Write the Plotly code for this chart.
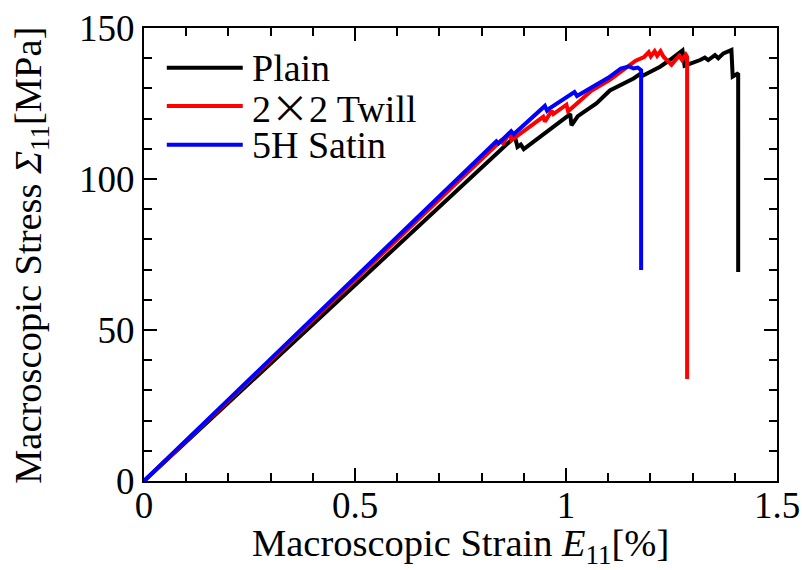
import plotly.graph_objects as go

# Stress-strain curves for three weave architectures (strain in %, stress in MPa)
strain_plain = [0, 0.879, 0.885, 0.893, 0.900, 1.010, 1.013, 1.028, 1.072, 1.104, 1.160,
                1.178, 1.182, 1.223, 1.246, 1.276, 1.281, 1.301, 1.318, 1.329, 1.337,
                1.353, 1.361, 1.373, 1.392, 1.395, 1.408, 1.408]
stress_plain = [0, 114.0, 110.6, 111.4, 109.9, 121.5, 117.8, 120.8, 125.0, 129.3, 133.3,
                135.0, 134.2, 137.2, 139.4, 142.6, 137.5, 138.4, 139.4, 140.2, 139.4,
                141.0, 140.0, 141.6, 142.7, 133.9, 135.0, 69.2]

strain_twill = [0, 0.845, 0.851, 0.866, 0.871, 0.946, 0.950, 0.966, 0.970, 1.001, 1.005,
                1.060, 1.104, 1.136, 1.165, 1.185, 1.196, 1.201, 1.210, 1.216, 1.224,
                1.231, 1.250, 1.268, 1.275, 1.284, 1.287, 1.287]
stress_twill = [0, 112.6, 111.8, 115.2, 112.9, 120.6, 119.0, 122.6, 121.5, 124.6, 122.4,
                129.2, 132.8, 136.1, 139.2, 140.4, 142.0, 140.6, 142.3, 140.8, 142.3,
                140.5, 137.8, 140.8, 139.4, 141.2, 140.5, 33.8]

strain_satin = [0, 0.835, 0.840, 0.870, 0.876, 0.950, 0.955, 0.962, 1.020, 1.026, 1.100,
                1.130, 1.150, 1.160, 1.170, 1.178, 1.178]
stress_satin = [0, 112.5, 111.8, 115.8, 114.8, 124.2, 122.6, 123.5, 128.8, 127.5, 133.5,
                136.6, 137.3, 136.6, 136.9, 136.0, 69.9]

series_names = ["Plain", "2×2 Twill", "5H Satin"]
series_colors = ["#000000", "#ff0000", "#0000ff"]

x_range = [0, 1.5]
y_range = [0, 150]
x_ticks = [0, 0.5, 1, 1.5]
x_ticktext = ["0", "0.5", "1", "1.5"]

x_title = "Macroscopic Strain <i>E</i><sub>11</sub>[%]"
y_title = "Macroscopic Stress <i>Σ</i><sub>11</sub>[MPa]"

FONT = "Liberation Serif, Times New Roman, serif"
FS_TICK = 37
FS_TITLE = 38.5
FS_LEGEND = 38

fig = go.Figure()
for name, xs, ys, col in zip(series_names,
                             [strain_plain, strain_twill, strain_satin],
                             [stress_plain, stress_twill, stress_satin],
                             series_colors):
    fig.add_trace(go.Scatter(x=xs, y=ys, mode="lines", name=name,
                             line=dict(color=col, width=4), showlegend=False))

axis_style = dict(
    showline=True, linewidth=2, linecolor="black", mirror="allticks",
    ticks="inside", ticklen=13, tickwidth=2, tickcolor="black",
    showgrid=False, zeroline=False, automargin=False,
    tickfont=dict(family=FONT, size=FS_TICK, color="black"),
)

fig.update_xaxes(range=x_range, tickvals=x_ticks, ticktext=x_ticktext,
                 ticklabelstandoff=-9,
                 minor=dict(ticks="inside", ticklen=8, tickwidth=2, tickcolor="black", dtick=0.1),
                 **axis_style)
fig.update_yaxes(range=y_range, dtick=50,
                 minor=dict(ticks="inside", ticklen=8, tickwidth=2, tickcolor="black", dtick=10),
                 **axis_style)

# Axis titles placed just outside the plot frame
fig.add_annotation(xref="paper", yref="paper", x=0.5, y=0, yshift=-65,
                   text=x_title, showarrow=False, xanchor="center", yanchor="middle",
                   font=dict(family=FONT, size=FS_TITLE, color="black"))
fig.add_annotation(xref="paper", yref="paper", x=0, y=0.497, xshift=-113,
                   text=y_title, showarrow=False, textangle=-90,
                   xanchor="center", yanchor="middle",
                   font=dict(family=FONT, size=FS_TITLE, color="black"))

# Legend drawn as line samples with labels inside the plot area
legend_y = [0.912, 0.828, 0.742]
for name, col, ly in zip(series_names, series_colors, legend_y):
    fig.add_shape(type="line", xref="paper", yref="paper", x0=0.036, x1=0.156,
                  y0=ly, y1=ly, line=dict(color=col, width=4))
    label = name.replace("×", '<span style="font-family:Noto Sans CJK JP">×</span>')
    fig.add_annotation(xref="paper", yref="paper", x=0.167, y=ly, text=label,
                       showarrow=False, xanchor="left", yanchor="middle",
                       font=dict(family=FONT, size=FS_LEGEND, color="black"))

fig.update_layout(
    width=802, height=570,
    margin=dict(l=144, r=25, t=28, b=89),
    paper_bgcolor="white", plot_bgcolor="white",
    font=dict(family=FONT, size=FS_TICK, color="black"),
)

fig.write_html("out.html")
